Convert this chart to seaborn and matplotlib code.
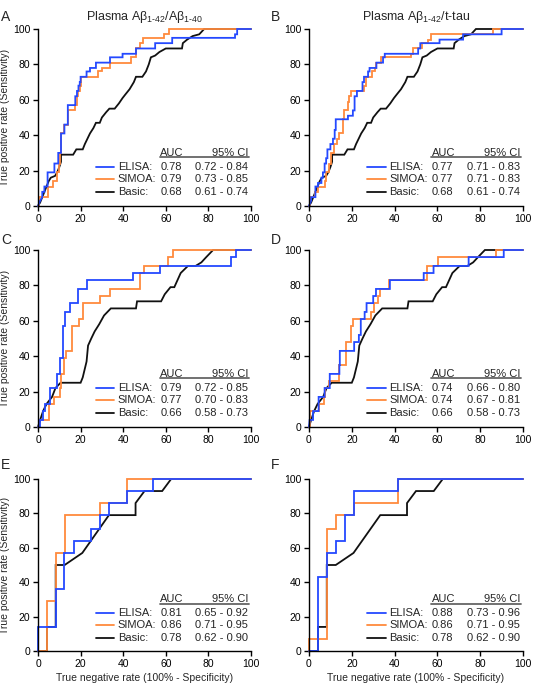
import matplotlib
matplotlib.use("Agg")
import matplotlib.pyplot as plt
import seaborn as sns
import pandas as pd

# ---------------- data ----------------
basic_ab_x = [0, 1, 2, 3, 4, 5, 6, 8, 9, 10, 10.8, 10.8, 16.5, 18, 21, 22, 24.4, 26, 27.2, 29, 30, 32, 33.5, 36, 38,
              39.7, 41, 43, 45, 46, 49, 50.7, 52, 53, 55, 57, 60, 67.6, 68, 70, 72.6, 75.7, 78, 100]
basic_ab_y = [0, 2, 5, 8, 11, 14, 16, 17, 19, 22, 25, 29, 29, 32, 32, 35, 41, 44, 47, 47, 50, 53, 55, 55, 58,
              61, 63, 66, 70, 73, 73, 76, 80, 84, 85, 87, 89, 89, 92, 94, 96, 97, 100, 100]

A_elisa_x = [0, 1, 2, 2, 3, 3, 4.5, 4.5, 7.7, 7.7, 9.5, 9.5, 10.8, 10.8, 12.4, 12.4, 14, 14, 17.5, 17.5, 18.3, 18.3,
             19, 19, 19.6, 19.6, 20, 20, 22.8, 22.8, 24.4, 24.4, 27.2, 27.2, 33.8, 33.8, 39.7, 39.7, 46, 46, 55, 55,
             63, 63, 92.5, 92.5, 93.5, 93.5, 100]
A_elisa_y = [0, 3, 5, 8, 8, 11, 11, 19, 19, 24, 24, 30, 30, 41, 41, 46, 46, 57, 57, 62, 62, 65,
             65, 68, 68, 70, 70, 73, 73, 76, 76, 78, 78, 81, 81, 84, 84, 86, 86, 89, 89, 92,
             92, 95, 95, 97, 97, 100, 100]
A_simoa_x = [0, 0.6, 0.6, 4.5, 4.5, 7, 7, 8.8, 8.8, 9.7, 9.7, 10.3, 10.3, 11, 11, 12.4, 12.4, 14, 14, 17.5, 17.5,
             18.3, 18.3, 19, 19, 19.6, 19.6, 20, 20, 28.3, 28.3, 30, 30, 34, 34, 43.7, 43.7, 46, 46, 48, 48, 49.5,
             49.5, 59, 59, 61.6, 61.6, 100]
A_simoa_y = [0, 0, 5, 5, 11, 11, 14, 14, 19, 19, 24, 24, 30, 30, 41, 41, 46, 46, 54, 54, 57,
             57, 62, 62, 65, 65, 68, 68, 73, 73, 76, 76, 78, 78, 81, 81, 84, 84, 89, 89, 92, 92,
             95, 95, 97, 97, 100, 100]

B_elisa_x = [0, 1, 1, 3, 3, 4.2, 4.2, 5.8, 5.8, 6.5, 6.5, 7.3, 7.3, 8, 8, 8.6, 8.6, 10, 10, 11.2, 11.2, 12, 12,
             12.5, 12.5, 18.2, 18.2, 20.5, 20.5, 21.3, 21.3, 22.4, 22.4, 25, 25, 25.7, 25.7, 27.6, 27.6, 28.3, 28.3,
             31.5, 31.5, 34.6, 34.6, 35.4, 35.4, 51, 51, 52, 52, 61, 61, 72, 72, 90, 90, 100]
B_elisa_y = [0, 3, 5, 5, 11, 11, 13, 13, 16, 16, 19, 19, 24, 24, 27, 27, 32, 32, 35, 35, 38, 38, 43,
             43, 49, 49, 51, 51, 54, 54, 62, 62, 65, 65, 70, 70, 73, 73, 76, 76, 78,
             78, 81, 81, 84, 84, 86, 86, 89, 89, 92, 92, 94, 94, 97, 97, 100, 100]
B_simoa_x = [0, 0.4, 0.4, 2.6, 2.6, 4, 4, 7.3, 7.3, 8, 8, 9.5, 9.5, 10.4, 10.4, 11.5, 11.5, 13, 13, 13.9, 13.9,
             15.9, 15.9, 16.4, 16.4, 18.2, 18.2, 18.6, 18.6, 19.5, 19.5, 25.7, 25.7, 26.5, 26.5, 29.5, 29.5, 30.7,
             30.7, 31.5, 31.5, 33.5, 33.5, 47.8, 47.8, 48.5, 48.5, 53, 53, 55.6, 55.6, 57, 57, 86, 86, 100]
B_simoa_y = [0, 0, 5, 5, 8, 8, 11, 11, 14, 14, 19, 19, 24, 24, 30, 30, 35, 35, 38, 38, 41,
             41, 49, 49, 54, 54, 59, 59, 62, 62, 65, 65, 68, 68, 73, 73, 76, 76,
             78, 78, 81, 81, 84, 84, 86, 86, 89, 89, 92, 92, 94, 94, 97, 97, 100, 100]

basic_cd_x = [0, 1, 2.4, 4, 6.6, 8.2, 10.6, 20, 21, 22.8, 23.5, 25, 26.6, 28.7, 31, 34.2, 46, 46.5, 57.8, 59.5,
              62.2, 64, 65.5, 67, 70.4, 74, 76.7, 79, 82.2, 100]
basic_cd_y = [0, 4, 9, 13, 17, 22, 25, 25, 28, 37, 46, 50, 54, 58, 63, 67, 67, 71, 71, 75,
              79, 79, 83, 87, 91, 91, 93, 96, 100, 100]

C_elisa_x = [0, 0.8, 0.8, 2.5, 2.5, 3.5, 3.5, 5.8, 5.8, 8.7, 8.7, 10.2, 10.2, 11.8, 11.8, 12.9, 12.9, 15, 15,
             18.9, 18.9, 23.1, 23.1, 44.8, 44.8, 57.2, 57.2, 90.7, 90.7, 92.8, 92.8, 100]
C_elisa_y = [0, 0, 4, 4, 9, 9, 13, 13, 22, 22, 30, 30, 39, 39, 57, 57, 65, 65, 70,
             70, 78, 78, 83, 83, 87, 87, 91, 91, 96, 96, 100, 100]
C_simoa_x = [0, 0.3, 0.3, 5.2, 5.2, 7.7, 7.7, 10.2, 10.2, 10.6, 10.6, 12.1, 12.1, 13.2, 13.2, 15.8, 15.8, 19.2,
             19.2, 20.9, 20.9, 29, 29, 34, 34, 47.7, 47.7, 49.9, 49.9, 61, 61, 63.5, 63.5, 100]
C_simoa_y = [0, 0, 4, 4, 13, 13, 17, 17, 22, 22, 30, 30, 39, 39, 43, 43, 57, 57,
             61, 61, 70, 70, 74, 74, 78, 78, 87, 87, 91, 91, 96, 96, 100, 100]

D_elisa_x = [0, 0.3, 1.9, 1.9, 4.5, 4.5, 7.3, 7.3, 9.7, 9.7, 14.2, 14.2, 14.4, 14.4, 21.1, 21.1, 23.3, 23.3, 24.2,
             24.2, 26, 26, 26.9, 26.9, 30, 30, 31.3, 31.3, 37.8, 37.8, 53.6, 53.6, 58.2, 58.2, 74.6, 74.6, 91, 91, 100]
D_elisa_y = [0, 4, 4, 9, 9, 17, 17, 22, 22, 30, 30, 35, 35, 43, 43, 48, 48, 52, 52,
             61, 61, 65, 65, 70, 70, 74, 74, 78, 78, 83, 83, 87, 87, 91, 91, 96, 96, 100, 100]
D_simoa_x = [0, 0.3, 0.3, 4.7, 4.7, 6.9, 6.9, 7.7, 7.7, 9.5, 9.5, 14, 14, 17.5, 17.5, 19.8, 19.8, 20.5, 20.5,
             29.2, 29.2, 30.3, 30.3, 32.3, 32.3, 33.1, 33.1, 37.3, 37.3, 55.3, 55.3, 60.5, 60.5, 87.3, 87.3, 100]
D_simoa_y = [0, 0, 9, 9, 13, 13, 17, 17, 22, 22, 26, 26, 35, 35, 48, 48, 57, 57, 61,
             61, 65, 65, 70, 70, 74, 74, 78, 78, 83, 83, 91, 91, 96, 96, 100, 100]

basic_ef_x = [0, 4.2, 4.2, 8.3, 8.3, 12.5, 20.8, 33.3, 45.8, 45.8, 50, 58.3, 62.5, 100]
basic_ef_y = [0, 0, 14, 14, 50, 50, 57, 79, 79, 86, 93, 93, 100, 100]

E_elisa_x = [0, 0, 8.5, 8.5, 12.4, 12.4, 16.8, 16.8, 25, 25, 29.2, 29.2, 33.3, 33.3, 41.7, 41.7, 54.2, 54.2, 100]
E_elisa_y = [0, 14, 14, 36, 36, 57, 57, 64, 64, 71, 71, 79, 79, 86, 86, 93, 93, 100, 100]
E_simoa_x = [0, 4.2, 4.2, 8.3, 8.3, 12.5, 12.5, 29.2, 29.2, 41.7, 41.7, 100]
E_simoa_y = [0, 0, 29, 29, 57, 57, 79, 79, 86, 86, 100, 100]

F_elisa_x = [0, 4.2, 4.2, 8.3, 8.3, 12.5, 12.5, 16.7, 16.7, 20.8, 20.8, 41.7, 41.7, 100]
F_elisa_y = [0, 0, 43, 43, 57, 57, 64, 64, 79, 79, 93, 93, 100, 100]
F_simoa_x = [0, 0, 8.3, 8.3, 12.5, 12.5, 20.8, 20.8, 41.7, 41.7, 100]
F_simoa_y = [0, 7, 7, 71, 71, 79, 79, 86, 86, 100, 100]

methods = ["ELISA:", "SIMOA:", "Basic:"]
A_auc = ["0.78", "0.79", "0.68"]; A_ci = ["0.72 - 0.84", "0.73 - 0.85", "0.61 - 0.74"]
B_auc = ["0.77", "0.77", "0.68"]; B_ci = ["0.71 - 0.83", "0.71 - 0.83", "0.61 - 0.74"]
C_auc = ["0.79", "0.77", "0.66"]; C_ci = ["0.72 - 0.85", "0.70 - 0.83", "0.58 - 0.73"]
D_auc = ["0.74", "0.74", "0.66"]; D_ci = ["0.66 - 0.80", "0.67 - 0.81", "0.58 - 0.73"]
E_auc = ["0.81", "0.86", "0.78"]; E_ci = ["0.65 - 0.92", "0.71 - 0.95", "0.62 - 0.90"]
F_auc = ["0.88", "0.86", "0.78"]; F_ci = ["0.73 - 0.96", "0.71 - 0.95", "0.62 - 0.90"]

panel_letters = ["A", "B", "C", "D", "E", "F"]
col_titles = ["Plasma A\u03b2$_{\\text{1-42}}$/A\u03b2$_{\\text{1-40}}$", "Plasma A\u03b2$_{\\text{1-42}}$/t-tau"]
ticks = [0, 20, 40, 60, 80, 100]

# ---------------- style ----------------
sns.set_theme(style="ticks")
plt.rcParams["font.family"] = ["Liberation Sans", "DejaVu Sans"]
plt.rcParams["mathtext.fontset"] = "custom"
plt.rcParams["mathtext.rm"] = "Liberation Sans"
plt.rcParams["mathtext.it"] = "Liberation Sans"

C_ELISA = "#2449ff"
C_SIMOA = "#ff8a3d"
C_BASIC = "#111111"
colors = [C_ELISA, C_SIMOA, C_BASIC]

fig = plt.figure(figsize=(5.33, 6.85), dpi=100)
W, H = 533, 685
col_left = [38 / W, 309 / W]
col_w = [213 / W, 214 / W]
rows = [(29, 206), (250, 427), (479, 651)]

panels = [
    (A_elisa_x, A_elisa_y, A_simoa_x, A_simoa_y, basic_ab_x, basic_ab_y, A_auc, A_ci),
    (B_elisa_x, B_elisa_y, B_simoa_x, B_simoa_y, basic_ab_x, basic_ab_y, B_auc, B_ci),
    (C_elisa_x, C_elisa_y, C_simoa_x, C_simoa_y, basic_cd_x, basic_cd_y, C_auc, C_ci),
    (D_elisa_x, D_elisa_y, D_simoa_x, D_simoa_y, basic_cd_x, basic_cd_y, D_auc, D_ci),
    (E_elisa_x, E_elisa_y, E_simoa_x, E_simoa_y, basic_ef_x, basic_ef_y, E_auc, E_ci),
    (F_elisa_x, F_elisa_y, F_simoa_x, F_simoa_y, basic_ef_x, basic_ef_y, F_auc, F_ci),
]

FS_TICK = 7.5
FS_LEG = 8
LW = 1.3

for i, (ex, ey, sx, sy, bx, by, aucs, cis) in enumerate(panels):
    r, c = divmod(i, 2)
    top, bot = rows[r]
    ax = fig.add_axes([col_left[c], 1 - bot / H, col_w[c], (bot - top) / H])
    # draw order: basic, simoa, elisa (elisa on top)
    for xs, ys, col in [(bx, by, C_BASIC), (sx, sy, C_SIMOA), (ex, ey, C_ELISA)]:
        df = pd.DataFrame({"x": xs, "y": ys})
        sns.lineplot(data=df, x="x", y="y", sort=False, estimator=None, color=col,
                     lw=LW, ax=ax, clip_on=False, solid_joinstyle="miter")
    ax.set_xlim(0, 100)
    ax.set_ylim(0, 100)
    ax.set_xticks(ticks)
    ax.set_yticks(ticks)
    ax.tick_params(labelsize=FS_TICK, length=3.5, width=1.0, pad=2, colors="black")
    for s in ["top", "right"]:
        ax.spines[s].set_visible(False)
    for s in ["left", "bottom"]:
        ax.spines[s].set_linewidth(1.0)
        ax.spines[s].set_color("black")
    ax.set_xlabel("")
    ax.set_ylabel("")
    if c == 0:
        ax.set_ylabel("True positive rate (Sensitivity)", fontsize=FS_TICK, labelpad=2)
    if r == 2:
        ax.set_xlabel("True negative rate (100% - Specificity)", fontsize=FS_TICK, labelpad=3)

    # legend table
    tr = ax.transAxes
    ax.text(0.575, 0.30, "AUC", transform=tr, fontsize=FS_LEG, ha="left", va="center")
    ax.text(0.987, 0.30, "95% CI", transform=tr, fontsize=FS_LEG, ha="right", va="center")
    ax.plot([0.572, 0.99], [0.275, 0.275], transform=tr, color="#666666", lw=1.3, clip_on=False)
    row_y = [0.222, 0.150, 0.078]
    for k in range(3):
        ax.plot([0.272, 0.358], [row_y[k], row_y[k]], transform=tr, color=colors[k], lw=LW)
        ax.text(0.375, row_y[k], methods[k], transform=tr, fontsize=FS_LEG, ha="left", va="center")
        ax.text(0.575, row_y[k], aucs[k], transform=tr, fontsize=FS_LEG, ha="left", va="center")
        ax.text(0.987, row_y[k], cis[k], transform=tr, fontsize=FS_LEG, ha="right", va="center")

    # panel letter
    lx = 1 / W if c == 0 else 271 / W
    ly = [17, 240, 465][r]
    fig.text(lx, 1 - ly / H, panel_letters[i], fontsize=10, ha="left", va="center")

# column titles
fig.text((38 + 106.5) / W, 1 - 17 / H, col_titles[0], fontsize=9, ha="center", va="center")
fig.text((309 + 107) / W, 1 - 17 / H, col_titles[1], fontsize=9, ha="center", va="center")

fig.savefig("out.png", dpi=100)
